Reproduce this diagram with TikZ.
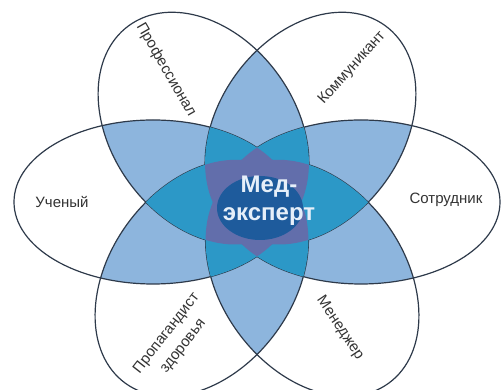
\documentclass[tikz,border=0pt]{standalone}
\usepackage{fontspec}
\setmainfont{Liberation Sans}
\definecolor{lb}{HTML}{8DB5DD}
\definecolor{teal1}{HTML}{2C98C7}
\definecolor{purp}{HTML}{626EAB}
\definecolor{darkc}{HTML}{1E5B9C}
\definecolor{outl}{HTML}{2E3A4A}
\definecolor{txt}{HTML}{333333}
\definecolor{ctxt}{HTML}{E6EFF9}
\newcommand\petal[2]{%
  \ifcase#2\relax\or
    #1[shift={(257,188)},rotate=180] (104,0) ellipse [x radius=139,y radius=82];\or
    #1[shift={(257,188)},rotate=0] (104,0) ellipse [x radius=139,y radius=82];\or
    #1[shift={(257,188)},rotate=126] (91,0) ellipse [x radius=127,y radius=92];\or
    #1[shift={(257,188)},rotate=54] (91,0) ellipse [x radius=127,y radius=92];\or
    #1[shift={(257,188)},rotate=234] (94,0) ellipse [x radius=130,y radius=92];\or
    #1[shift={(257,188)},rotate=306] (94,0) ellipse [x radius=130,y radius=92];\fi}
\tikzset{
  lbl/.style={font=\fontsize{15}{17}\selectfont, text=txt, inner sep=0pt},
  ctrlbl/.style={font=\fontsize{24}{28}\selectfont\bfseries, text=ctxt, align=center, inner sep=0pt},
  outline/.style={draw=outl, line width=1.2pt}
}
\begin{document}
\begin{tikzpicture}[x=1pt,y=1pt]
\useasboundingbox (0,0) rectangle (504,390);
\fill[white] (0,0) rectangle (504,390);
% pairwise overlaps
\foreach \i/\j in {1/2,1/3,1/4,1/5,1/6,2/3,2/4,2/5,2/6,3/4,3/5,3/6,4/5,4/6,5/6}{
  \begin{scope}
    \petal{\clip}{\i}
    \petal{\clip}{\j}
    \fill[lb] (0,0) rectangle (504,390);
  \end{scope}
}
% outlines
\foreach \i in {1,...,6}{\petal{\draw[outline]}{\i}}
% triple overlaps
\foreach \i/\j/\k in {1/2/3,1/2/4,1/2/5,1/2/6,1/3/4,1/3/5,1/3/6,1/4/5,1/4/6,1/5/6,2/3/4,2/3/5,2/3/6,2/4/5,2/4/6,2/5/6,3/4/5,3/4/6,3/5/6,4/5/6}{
  \begin{scope}
    \petal{\clip}{\i}
    \petal{\clip}{\j}
    \petal{\clip}{\k}
    \fill[teal1] (0,0) rectangle (504,390);
  \end{scope}
}
% fourfold overlaps
\foreach \i/\j/\k/\l in {3/4/5/6,2/4/5/6,2/3/5/6,2/3/4/6,2/3/4/5,1/4/5/6,1/3/5/6,1/3/4/6,1/3/4/5,1/2/5/6,1/2/4/6,1/2/4/5,1/2/3/6,1/2/3/5,1/2/3/4}{
  \begin{scope}
    \petal{\clip}{\i}
    \petal{\clip}{\j}
    \petal{\clip}{\k}
    \petal{\clip}{\l}
    \fill[purp] (0,0) rectangle (504,390);
  \end{scope}
}
\fill[darkc] (260,182) ellipse [x radius=43,y radius=32];
\node[ctrlbl] (med) at (269,189) {Мед-\\эксперт};
\node[lbl] (uch) at (62,188) {Ученый};
\node[lbl] (sotr) at (446,190) {Сотрудник};
\node[lbl, rotate=-60] (prof) at (166,320) {Профессионал};
\node[lbl, rotate=48] (komm) at (352,322) {Коммуникант};
\node[lbl, rotate=52, align=center, font=\fontsize{15}{21}\selectfont] (prop) at (175,50) {Пропагандист\\здоровья};
\node[lbl, rotate=-56] (men) at (340,62) {Менеджер};
\end{tikzpicture}
\end{document}
